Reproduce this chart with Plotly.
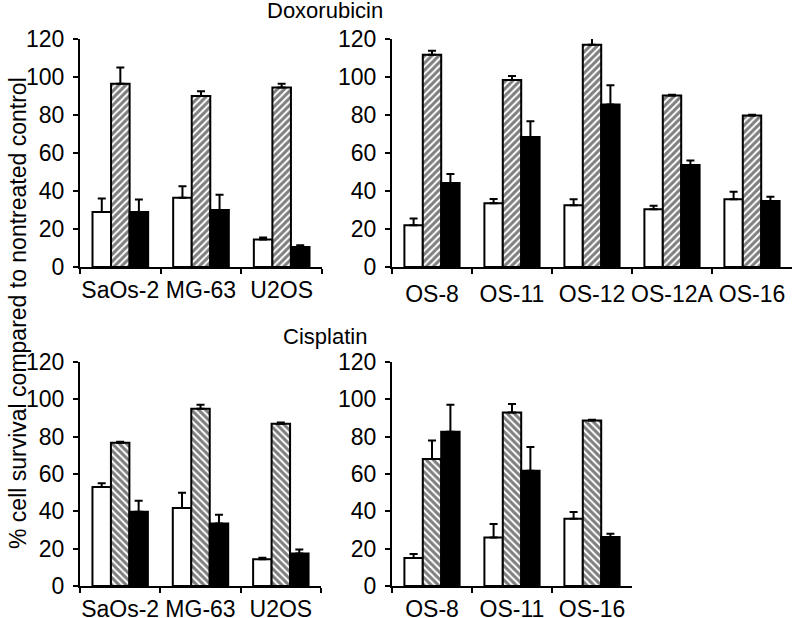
import plotly.graph_objects as go

# ---------------- data ----------------
dox_left_cats = ["SaOs-2", "MG-63", "U2OS"]
dox_left_white = [29, 36.5, 14.5]
dox_left_white_err = [7, 6, 1]
dox_left_hatch = [96.5, 90, 94.5]
dox_left_hatch_err = [8.5, 2.5, 2]
dox_left_black = [29, 30, 10.5]
dox_left_black_err = [6.5, 8, 1]

dox_right_cats = ["OS-8", "OS-11", "OS-12", "OS-12A", "OS-16"]
dox_right_white = [22, 33.5, 32.5, 30.4, 35.7]
dox_right_white_err = [3.5, 2.3, 3.2, 1.9, 3.9]
dox_right_hatch = [111.7, 98.4, 117, 90.2, 79.7]
dox_right_hatch_err = [2.1, 2.1, 5.5, 0.5, 0.4]
dox_right_black = [44.2, 68.4, 85.5, 53.7, 34.7]
dox_right_black_err = [4.8, 8.3, 10.2, 2.3, 2.3]

cis_left_cats = ["SaOs-2", "MG-63", "U2OS"]
cis_left_white = [53.1, 41.8, 14.3]
cis_left_white_err = [2.0, 8.2, 0.9]
cis_left_hatch = [76.8, 95, 86.9]
cis_left_hatch_err = [0.5, 2.1, 0.7]
cis_left_black = [39.8, 33.5, 17.4]
cis_left_black_err = [5.9, 4.7, 2.1]

cis_right_cats = ["OS-8", "OS-11", "OS-16"]
cis_right_white = [15, 26, 36]
cis_right_white_err = [2.2, 7.2, 3.6]
cis_right_hatch = [68.1, 93, 88.7]
cis_right_hatch_err = [9.9, 4.5, 0.3]
cis_right_black = [82.6, 61.8, 26.2]
cis_right_black_err = [14.5, 12.6, 1.8]

y_ticks = [0, 20, 40, 60, 80, 100, 120]

FONT = "Liberation Sans, Arial, Helvetica, sans-serif"
W, H = 796, 618

fig = go.Figure()


def err(vals):
    return dict(type="data", symmetric=False, array=vals,
                arrayminus=[0] * len(vals), color="black",
                thickness=2, width=4, visible=True)


def add_panel(idx, cats, white, werr, hatch, herr, black, berr, shape):
    xa = "x" if idx == 1 else f"x{idx}"
    ya = "y" if idx == 1 else f"y{idx}"
    line = dict(color="black", width=2)
    fig.add_trace(go.Bar(x=cats, y=white, xaxis=xa, yaxis=ya, name="white",
                         marker=dict(color="white", line=line),
                         error_y=err(werr), showlegend=False))
    fig.add_trace(go.Bar(x=cats, y=hatch, xaxis=xa, yaxis=ya, name="hatched",
                         marker=dict(color="white", line=line,
                                     pattern=dict(shape=shape, size=5,
                                                  solidity=0.6,
                                                  fgcolor="black",
                                                  bgcolor="white")),
                         error_y=err(herr), showlegend=False))
    fig.add_trace(go.Bar(x=cats, y=black, xaxis=xa, yaxis=ya, name="black",
                         marker=dict(color="black", line=line),
                         error_y=err(berr), showlegend=False))


add_panel(1, dox_left_cats, dox_left_white, dox_left_white_err,
          dox_left_hatch, dox_left_hatch_err, dox_left_black, dox_left_black_err, "/")
add_panel(2, dox_right_cats, dox_right_white, dox_right_white_err,
          dox_right_hatch, dox_right_hatch_err, dox_right_black, dox_right_black_err, "/")
add_panel(3, cis_left_cats, cis_left_white, cis_left_white_err,
          cis_left_hatch, cis_left_hatch_err, cis_left_black, cis_left_black_err, "\\")
add_panel(4, cis_right_cats, cis_right_white, cis_right_white_err,
          cis_right_hatch, cis_right_hatch_err, cis_right_black, cis_right_black_err, "\\")


def px_x(p):
    return p / W


def px_y(p):
    return 1 - p / H


xdoms = {1: (80, 322), 2: (392, 792), 3: (80, 321), 4: (392, 632)}
ydoms = {1: (267, 39), 2: (267, 39), 3: (586, 362), 4: (586, 362)}
xstand = {1: 1, 2: 5, 3: 1, 4: 1}

layout_axes = {}
for i in range(1, 5):
    xk = "xaxis" if i == 1 else f"xaxis{i}"
    yk = "yaxis" if i == 1 else f"yaxis{i}"
    ya = "y" if i == 1 else f"y{i}"
    xa = "x" if i == 1 else f"x{i}"
    layout_axes[xk] = dict(domain=[px_x(xdoms[i][0]), px_x(xdoms[i][1])],
                           anchor=ya, showline=True, linecolor="black",
                           linewidth=2, ticks="outside", tickson="boundaries",
                           ticklen=5, tickwidth=2, tickcolor="black",
                           showgrid=False, zeroline=False, tickangle=0,
                           automargin=False,
                           ticklabelstandoff=xstand[i],
                           tickfont=dict(family=FONT, size=23, color="black"))
    layout_axes[yk] = dict(domain=[px_y(ydoms[i][0]), px_y(ydoms[i][1])],
                           anchor=xa, range=[0, 120], tickvals=y_ticks,
                           showline=True, linecolor="black", linewidth=2,
                           ticks="outside", ticklen=5, tickwidth=2,
                           tickcolor="black", showgrid=False, zeroline=False,
                           automargin=False, ticklabelstandoff=4,
                           tickfont=dict(family=FONT, size=23, color="black"))

fig.update_layout(
    width=W, height=H,
    margin=dict(l=0, r=0, t=0, b=0, autoexpand=False),
    paper_bgcolor="white", plot_bgcolor="white",
    barmode="group", bargap=0.31, bargroupgap=0,
    showlegend=False,
    font=dict(family=FONT, color="black"),
    annotations=[
        dict(text="Doxorubicin", x=px_x(325), y=px_y(11), xref="paper",
             yref="paper", showarrow=False, xanchor="center", yanchor="middle",
             font=dict(family=FONT, size=22, color="black")),
        dict(text="Cisplatin", x=px_x(325), y=px_y(336), xref="paper",
             yref="paper", showarrow=False, xanchor="center", yanchor="middle",
             font=dict(family=FONT, size=22, color="black")),
        dict(text="% cell survival compared to nontreated control",
             x=px_x(18), y=px_y(313), xref="paper", yref="paper",
             showarrow=False, textangle=-90, xanchor="center",
             yanchor="middle",
             font=dict(family=FONT, size=23, color="black")),
    ],
    **layout_axes,
)

fig.write_html(
    "out.html",
    config={"displayModeBar": False},
    post_script="document.body.style.margin='0';document.body.style.overflow='hidden';",
)
